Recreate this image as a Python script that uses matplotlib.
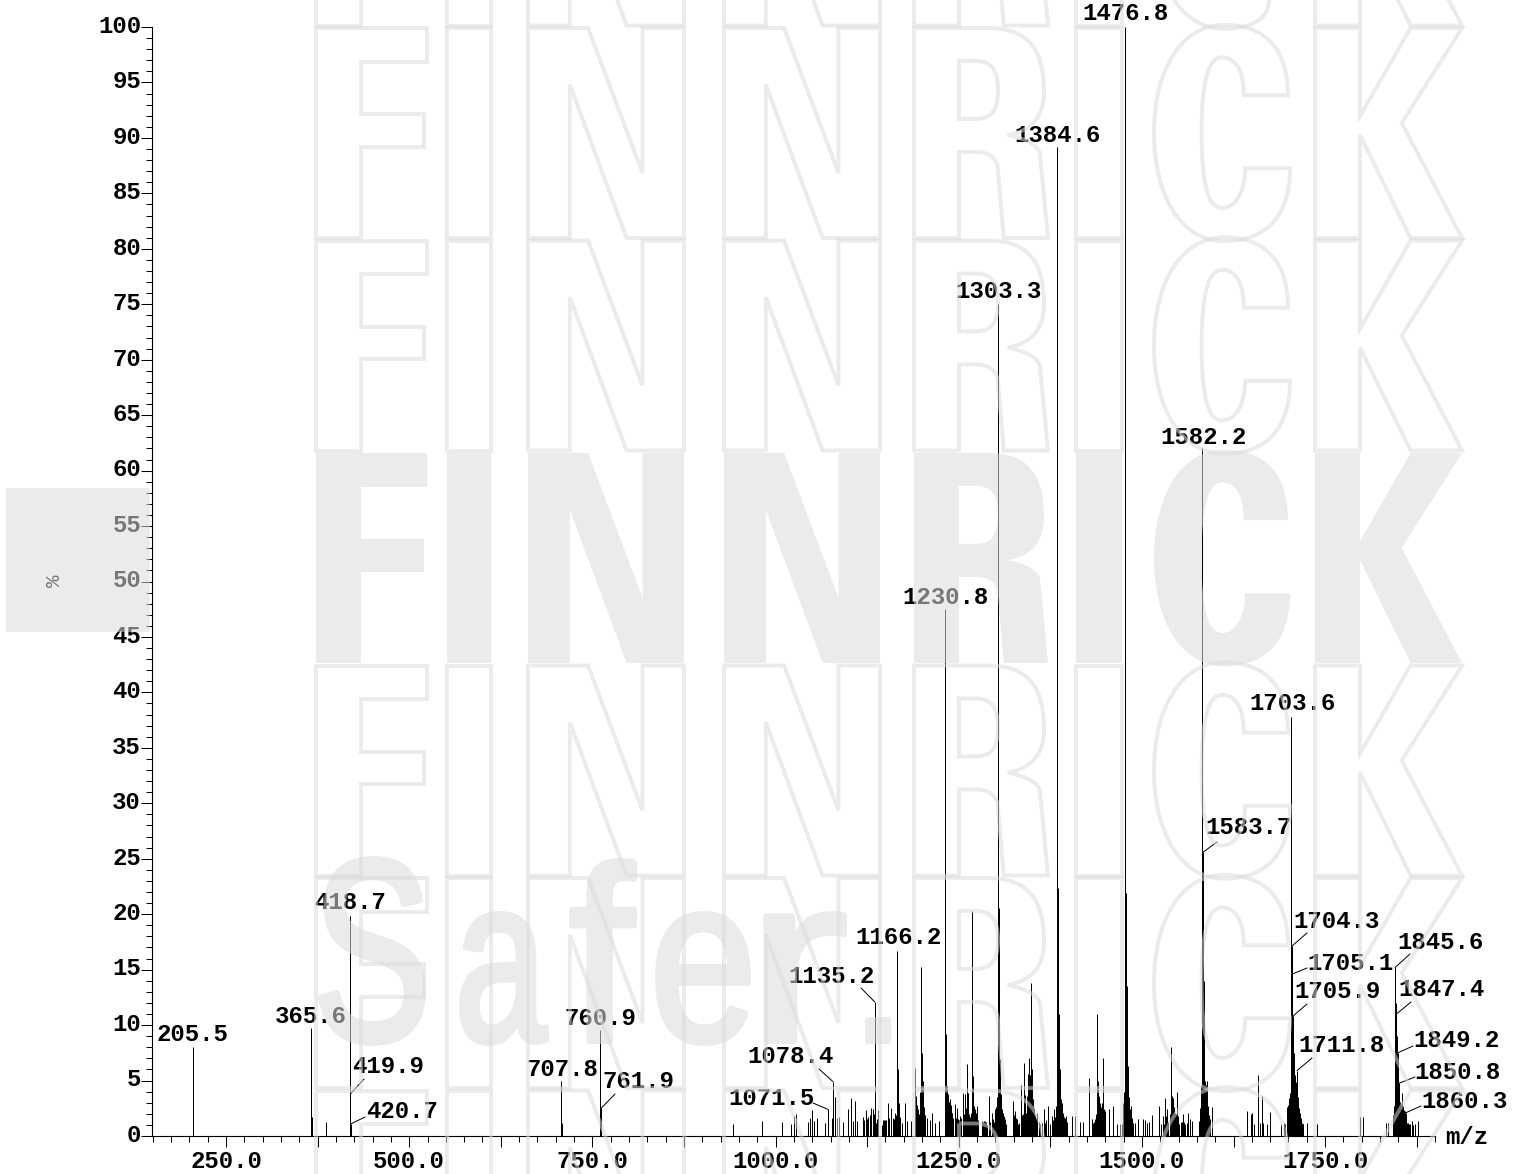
import matplotlib
matplotlib.use("Agg")
import numpy as np
import matplotlib.pyplot as plt
from matplotlib.font_manager import FontProperties
from matplotlib.path import Path
from matplotlib.patches import PathPatch, Rectangle
from matplotlib.textpath import TextPath
from matplotlib.transforms import Affine2D
from matplotlib.ticker import MultipleLocator, NullFormatter

W, H = 1528, 1174

# Labelled peaks
label_mz = [205.5, 365.6, 418.7, 419.9, 420.7, 707.8, 760.9, 761.9, 1071.5, 1078.4, 1135.2, 1166.2,
            1230.8, 1303.3, 1384.6, 1476.8, 1582.2, 1583.7, 1703.6, 1704.3, 1705.1, 1705.9, 1711.8,
            1845.6, 1847.4, 1849.2, 1850.8, 1860.3]
label_int = [8.0, 9.7, 19.8, 3.8, 1.1, 5.0, 9.55, 2.5, 2.4, 4.9, 12.1, 16.7,
             47.5, 75.0, 89.2, 100.0, 62.0, 25.6, 37.8, 17.1, 14.6, 10.8, 5.9,
             15.2, 11.0, 7.5, 4.75, 2.1]

# Unlabelled peaks
other_mz = [366.8, 387.0, 708.5, 942.4, 981.1, 1008.4, 1020.7, 1025.7, 1028.4, 1044.8, 1047.1, 1050.2, 1053.0,
            1056.6, 1068.0, 1077.5, 1081.2, 1083.9, 1086.6, 1092.5, 1099.4, 1103.0, 1106.2, 1108.5, 1110.8,
            1119.9, 1123.0, 1126.2, 1129.9, 1133.5, 1138.0, 1140.3, 1147.1, 1149.4, 1153.0, 1155.3, 1158.0,
            1160.8, 1163.0, 1167.6, 1169.9, 1172.2, 1176.7, 1179.9, 1184.5, 1190.4, 1191.7, 1194.9, 1198.1,
            1199.9, 1201.7, 1206.3, 1210.8, 1214.0, 1217.7, 1223.1, 1232.2, 1233.6, 1235.8, 1238.1, 1240.4,
            1244.9, 1248.1, 1251.8, 1255.4, 1258.6, 1260.9, 1263.2, 1266.3, 1268.6, 1270.0, 1272.3, 1274.5,
            1281.4, 1285.9, 1291.8, 1295.0, 1299.6, 1304.4, 1306.4, 1308.7, 1311.9, 1314.2, 1324.6, 1327.0,
            1331.4, 1334.6, 1337.3, 1339.6, 1341.9, 1344.2, 1346.0, 1348.3, 1349.6, 1351.9, 1356.5, 1363.3,
            1366.5, 1371.5, 1374.6, 1376.9, 1380.1, 1385.4, 1387.0, 1389.6, 1392.8, 1396.0, 1404.2, 1408.8,
            1415.6, 1420.1, 1428.3, 1431.5, 1438.3, 1439.2, 1441.5, 1445.2, 1447.0, 1449.7, 1455.6, 1460.2,
            1461.0, 1465.6, 1470.2, 1472.4, 1475.6, 1478.3, 1479.3, 1480.6, 1482.0, 1483.8, 1485.2, 1488.4,
            1490.6, 1494.3, 1501.1, 1504.3, 1507.5, 1510.2, 1513.4, 1523.8, 1525.7, 1529.3, 1531.6, 1533.9,
            1536.1, 1540.2, 1541.6, 1543.0, 1545.2, 1547.5, 1549.8, 1553.0, 1556.6, 1558.9, 1563.4, 1565.7,
            1568.9, 1578.4, 1588.4, 1590.7, 1593.0, 1595.3, 1644.0, 1648.5, 1650.8, 1653.1, 1659.0, 1661.3,
            1663.5, 1665.8, 1670.4, 1674.9, 1689.5, 1694.0, 1697.6, 1702.2, 1706.8, 1710.4, 1715.9, 1718.1,
            1720.4, 1725.9, 1738.6, 1797.7, 1802.3, 1832.8, 1836.4, 1842.3, 1844.2, 1854.6, 1856.9, 1859.2,
            1863.7, 1868.3, 1872.8, 1877.4]
other_int = [1.7, 1.3, 1.2, 1.1, 1.35, 1.3, 1.05, 1.8, 2.0, 1.3, 1.65, 2.3, 1.35,
             1.6, 1.2, 1.65, 3.5, 1.65, 1.75, 1.25, 2.4, 3.4, 1.35, 3.2, 1.35,
             1.75, 2.3, 1.75, 2.5, 2.4, 1.5, 2.35, 1.45, 1.45, 3.0, 1.65, 2.5,
             1.65, 2.1, 5.9, 1.5, 1.2, 3.0, 1.35, 1.35, 6.1, 3.6, 2.4, 15.2,
             7.5, 2.1, 1.65, 1.45, 2.1, 1.2, 1.35, 9.2, 3.9, 3.5, 3.3, 2.1,
             2.9, 2.55, 1.8, 3.9, 3.75, 6.5, 3.9, 2.1, 20.3, 5.4, 2.4, 2.7,
             1.35, 1.35, 3.6, 2.1, 2.4, 20.6, 6.9, 2.1, 1.8, 1.05, 3.15, 2.25,
             1.05, 4.6, 1.95, 6.6, 2.1, 5.55, 7.0, 13.8, 6.0, 3.3, 2.1, 1.2,
             2.4, 2.7, 1.05, 1.8, 2.4, 22.4, 8.0, 3.3, 2.1, 1.8, 1.8, 1.8,
             1.25, 1.25, 5.25, 1.5, 11.0, 9.2, 3.6, 2.7, 7.0, 2.25, 2.4, 2.55,
             2.7, 1.1, 1.1, 1.1, 4.0, 21.9, 13.5, 6.3, 3.0, 2.4, 2.7, 1.2,
             1.2, 1.5, 1.55, 1.45, 1.2, 1.25, 1.85, 2.75, 1.05, 1.8, 3.4, 2.4,
             1.2, 8.05, 3.6, 3.45, 2.1, 4.0, 1.2, 1.05, 1.95, 1.05, 2.1, 1.5,
             1.35, 1.35, 5.0, 2.7, 1.5, 2.6, 2.25, 1.95, 2.1, 1.05, 5.5, 1.2,
             3.6, 1.2, 1.05, 2.2, 1.05, 1.2, 2.65, 3.9, 9.5, 4.8, 2.1, 1.2,
             1.05, 1.2, 1.05, 1.75, 1.75, 1.2, 1.2, 1.8, 2.7, 3.9, 2.7, 2.25,
             1.2, 1.35, 1.05, 1.35]

# Fine peaks that fill the isotope clusters
fine_mz = [1111.8, 1120.8, 1125.0, 1128.6, 1132.4, 1134.0, 1137.0, 1145.0,
           1148.0, 1151.4, 1154.0, 1157.0, 1161.5, 1164.8, 1166.9,
           1168.3, 1169.0, 1170.5, 1192.4, 1193.5, 1195.6, 1196.5, 1197.3, 1198.8, 1200.6, 1202.4, 1203.3, 1231.5,
           1232.8, 1233.0, 1234.4, 1235.0, 1236.4, 1237.0, 1238.8, 1239.5, 1240.9, 1241.8, 1242.6, 1246.0, 1247.0,
           1249.0, 1250.0, 1252.5, 1253.5, 1256.0, 1257.0, 1259.5, 1261.8, 1262.5, 1264.0, 1265.0, 1269.5, 1271.0,
           1273.0, 1275.5, 1276.5, 1283.5, 1284.5, 1287.0, 1288.0, 1293.0, 1296.5, 1298.0, 1301.0, 1302.0, 1305.0,
           1305.6, 1307.0, 1307.8, 1309.5, 1310.2, 1311.0, 1312.6, 1313.4, 1325.8, 1328.0, 1329.0, 1330.2, 1332.6,
           1335.5, 1336.4, 1338.4, 1340.6, 1342.8, 1343.5, 1345.0, 1347.0, 1350.5, 1352.8, 1353.6, 1355.0, 1357.5,
           1359.0, 1361.0, 1367.4, 1369.0, 1372.5, 1378.0, 1381.5, 1383.0, 1383.8, 1386.0, 1386.5, 1387.8, 1388.4,
           1390.5, 1391.2, 1394.0, 1395.0, 1397.5, 1433.0, 1435.0, 1436.0, 1437.0, 1440.3, 1442.4, 1443.5, 1444.3,
           1446.0, 1448.0, 1473.8, 1474.7, 1481.4, 1482.8, 1484.4, 1486.2, 1487.0, 1530.5, 1532.5, 1535.0, 1538.0,
           1539.0, 1542.3, 1544.0, 1546.3, 1548.6, 1551.0, 1554.0, 1555.0, 1557.6, 1561.0, 1562.0, 1579.5, 1580.3,
           1581.0, 1584.4, 1585.2, 1586.0, 1586.8, 1587.6, 1589.0, 1589.8, 1591.5, 1592.2, 1695.0, 1699.0, 1700.0,
           1701.0, 1702.9, 1707.5, 1708.2, 1709.0, 1709.7, 1711.0, 1712.5, 1713.3, 1714.0, 1714.8, 1716.7, 1717.4,
           1719.2, 1843.0, 1843.7, 1844.8, 1846.4, 1848.0, 1848.6, 1850.0, 1851.5, 1852.2, 1853.0, 1853.8, 1855.4,
           1856.2, 1857.6, 1858.4, 1860.0, 1861.0, 1862.0, 1864.5, 1865.5, 1869.5]
fine_int = [1.2, 1.4, 1.5, 1.9, 1.6, 2.0, 1.2, 1.0,
            1.4, 1.4, 1.6, 1.5, 1.5, 1.9, 6.0,
            3.0, 2.2, 1.7, 2.8, 2.2, 2.0, 2.0, 4.0, 10.0, 5.0, 2.6, 1.9, 7.0,
            6.0, 5.0, 4.5, 3.8, 3.0, 3.1, 2.8, 2.5, 2.1, 1.6, 1.4, 1.6, 1.9,
            1.5, 1.4, 1.6, 1.5, 2.2, 2.0, 2.5, 3.0, 2.4, 2.0, 1.7, 3.4, 2.7,
            2.1, 1.9, 1.4, 1.3, 1.35, 1.3, 1.0, 1.3, 1.5, 1.3, 2.6, 3.5, 12.0,
            9.0, 5.0, 3.8, 2.4, 2.1, 1.9, 1.5, 1.2, 1.9, 1.6, 1.3, 1.5, 1.2,
            2.8, 1.9, 2.1, 3.7, 3.5, 3.6, 4.5, 5.5, 3.7, 2.5, 2.0, 1.6, 1.8,
            1.3, 1.1, 1.2, 1.4, 1.8, 1.4, 1.7, 2.7, 4.6, 14.0, 11.0, 6.0, 4.8,
            3.0, 2.4, 1.7, 1.6, 1.3, 1.2, 1.3, 1.5, 2.0, 5.0, 3.0, 2.2, 2.6,
            3.0, 2.4, 2.2, 3.0, 4.5, 3.5, 2.2, 1.6, 1.2, 1.1, 1.8, 1.3, 1.4,
            2.0, 3.0, 2.6, 2.0, 1.8, 1.1, 1.3, 1.3, 1.3, 1.1, 1.2, 2.5, 3.6,
            4.5, 14.0, 9.0, 5.0, 4.6, 4.0, 3.3, 2.6, 1.9, 1.4, 1.1, 2.0, 2.8,
            3.4, 6.0, 7.5, 6.5, 5.5, 4.9, 4.2, 3.5, 2.9, 2.5, 2.3, 1.6, 1.5,
            1.1, 1.9, 2.3, 3.3, 12.0, 9.0, 8.0, 5.5, 3.3, 3.1, 2.8, 2.9, 2.8,
            2.6, 2.3, 2.2, 1.9, 1.5, 1.2, 1.1, 1.1, 1.0]

x_tick_values = [250, 500, 750, 1000, 1250, 1500, 1750]
y_tick_values = [0, 5, 10, 15, 20, 25, 30, 35, 40, 45, 50, 55, 60, 65, 70, 75, 80, 85, 90, 95, 100]

label_left_px = [157, 275, 314, 352, 366, 527, 565, 602, 728, 747, 788, 855,
                 902, 955, 1014, 1082, 1160, 1205, 1249, 1293, 1307, 1294, 1298,
                 1397, 1398, 1413, 1414, 1421]
label_mid_px = [1034.5, 1016.5, 902.5, 1066.5, 1111.5, 1069.5, 1018.5, 1081.5, 1098.5, 1056.5, 976.5, 937.5,
                597.5, 291.5, 135.5, 13.5, 437.5, 827.5, 703.5, 921.5, 963.5, 991.5, 1045.5,
                942.5, 989.5, 1040.5, 1072.5, 1101.5]

leader_mz = [419.9, 420.7, 761.9, 1071.5, 1078.4, 1135.2, 1583.7, 1704.3, 1705.1, 1705.9, 1711.8,
             1845.6, 1847.4, 1849.2, 1850.8, 1860.3]
leader_x_px = [364, 365, 615, 813, 819, 861, 1217, 1307, 1307, 1307, 1312, 1410, 1411, 1413, 1415, 1421]
leader_y_px = [1079, 1117, 1094, 1103, 1069, 988, 842, 933, 968, 1004, 1058, 954, 1002, 1046, 1077, 1106]

WM_ROW_TOPS = [-184.5, 28, 240.5, 453, 665.5, 878, 1090.5]
WM_ROW_H = 210
WM_BOXES = [("F", 316, 427), ("I", 447, 491), ("N", 528, 684), ("N", 724, 880),
            ("R", 914, 1048), ("I", 1076, 1122), ("C", 1154, 1290), ("K", 1315, 1462)]
SAFER = [("S", 318, 426, 856, 1046), ("a", 459, 549, 911, 1046), ("f", 569, 637, 858, 1044),
         ("e", 655, 751, 911, 1046), ("r", 763, 847, 911, 1044), (".", 865, 891, 1017, 1044)]

M, L, C, Z = Path.MOVETO, Path.LINETO, Path.CURVE4, Path.CLOSEPOLY


def poly(points):
    return Path(points + [points[0]], [M] + [L] * (len(points) - 1) + [Z])


def seq(start, *parts):
    v, c = [start], [M]
    for part in parts:
        if len(part) == 1:
            v += part
            c += [L]
        else:
            v += part
            c += [C, C, C]
    v.append(start)
    c.append(Z)
    return v, c


r_o = seq((0, 0), [(.55, 0)], [(.85, 0), (.97, .1), (.97, .305)], [(.97, .42), (.88, .49), (.70, .51)],
          [(.85, .53), (.93, .56), (.94, .60)], [(1, 1)], [(.67, 1)], [(.627, .68)],
          [(.627, .62), (.56, .59), (.46, .59)], [(.336, .59)], [(.336, 1)], [(0, 1)])
r_i = seq((.336, .157), [(.336, .433)], [(.46, .433)], [(.58, .433), (.627, .39), (.627, .295)],
          [(.627, .2), (.58, .157), (.46, .157)])
c_o = seq((.515, -.015), [(.82, -.015), (.985, .1), (.985, .32)], [(.66, .32)],
          [(.66, .2), (.6, .14), (.50, .14)], [(.40, .14), (.35, .25), (.35, .5)],
          [(.35, .75), (.40, .857), (.50, .857)], [(.6, .857), (.67, .78), (.67, .668)], [(1, .668)],
          [(1, .9), (.82, 1.015), (.515, 1.015)], [(.2, 1.015), (0, .8), (0, .5)], [(0, .2), (.2, -.015), (.515, -.015)])

GLYPHS = {
    "F": poly([(0, 0), (1, 0), (1, .16), (.405, .16), (.405, .41), (.973, .41), (.973, .565), (.405, .565), (.405, 1), (0, 1)]),
    "I": poly([(0, 0), (1, 0), (1, 1), (0, 1)]),
    "N": poly([(0, 0), (.385, 0), (.734, .69), (.734, 0), (1, 0), (1, 1), (.632, 1), (.268, .27), (.268, 1), (0, 1)]),
    "R": Path(r_o[0] + r_i[0], r_o[1] + r_i[1]),
    "C": Path(c_o[0], c_o[1]),
    "K": poly([(0, 0), (.306, 0), (.306, .42), (.65, 0), (1, 0), (.59, .452), (1, 1), (.65, 1), (.306, .51), (.306, 1), (0, 1)]),
}

FS = 17.3
LABEL_FONT = dict(family="Liberation Mono", weight="bold", size=FS)

fig = plt.figure(figsize=(W / 100, H / 100), dpi=100, facecolor="white")
ax = fig.add_axes([152 / W, 1 - 1136 / H, (1435 - 152) / W, (1136 - 27) / H])
ax.set_xlim(149, 1900)
ax.set_ylim(0, 100)
for s in ("top", "right"):
    ax.spines[s].set_visible(False)
for s in ("left", "bottom"):
    ax.spines[s].set_linewidth(0.8)

px = Affine2D().scale(1 / W, -1 / H).translate(0, 1) + fig.transFigure

for xs, ys in ((other_mz, other_int), (fine_mz, fine_int), (label_mz, label_int)):
    ax.vlines(xs, 0, ys, color="black", lw=0.72)

ax.xaxis.set_major_locator(MultipleLocator(125))
ax.xaxis.set_minor_locator(MultipleLocator(25))
ax.yaxis.set_major_locator(MultipleLocator(5))
ax.yaxis.set_minor_locator(MultipleLocator(1))
ax.xaxis.set_major_formatter(NullFormatter())
ax.yaxis.set_major_formatter(NullFormatter())
ax.tick_params(which="major", length=8, width=0.75)
ax.tick_params(which="minor", length=4.3, width=0.75)

for v in x_tick_values:
    ax.annotate(f"{v:.1f}", xy=(v, 0), xycoords=("data", "axes fraction"), xytext=(0, -18.5),
                textcoords="offset points", ha="center", va="center", annotation_clip=False, **LABEL_FONT)
for v in y_tick_values:
    ax.annotate(f"{v}", xy=(0, v), xycoords=("axes fraction", "data"), xytext=(-7.9, 0.5),
                textcoords="offset points", ha="right", va="center", annotation_clip=False, **LABEL_FONT)

for mz, lx, ly in zip(label_mz, label_left_px, label_mid_px):
    ax.text(lx, ly, f"{mz:.1f}", transform=px, ha="left", va="center", clip_on=False, **LABEL_FONT)

lookup = dict(zip(label_mz, label_int))
for mz, sx, sy in zip(leader_mz, leader_x_px, leader_y_px):
    ax.annotate("", xy=(mz, lookup[mz]), xycoords="data", xytext=(sx, sy), textcoords=px,
                arrowprops=dict(arrowstyle="-", lw=0.72, color="black", shrinkA=0, shrinkB=0))

ax.text(1445, 1137.5, "m/z", transform=px, ha="left", va="center", clip_on=False, **LABEL_FONT)
ax.text(54, 581, "%", transform=px, ha="center", va="center", rotation=90, clip_on=False,
        family="Liberation Mono", size=15)


def fit_text(ch, left, right, top, bottom):
    tp = TextPath((0, 0), ch, size=100, prop=FontProperties(family="Liberation Sans"))
    p = Path(tp.vertices, tp.codes)
    e = p.get_extents()
    tr = (Affine2D().translate(-e.x0, -e.y0)
          .scale((right - left) / e.width, -(bottom - top) / e.height)
          .translate(left, bottom))
    return p.transformed(tr)


WM = "#dbdbdb"
WM_A = 0.55
fig.add_artist(Rectangle((6, 488), 144, 144, transform=px, facecolor=WM, edgecolor="none", alpha=WM_A, zorder=10))
for top in WM_ROW_TOPS:
    solid = top == 453
    for ch, l, r in WM_BOXES:
        path = GLYPHS[ch].transformed(Affine2D().scale(r - l, WM_ROW_H).translate(l, top))
        fig.add_artist(PathPatch(path, transform=px, alpha=WM_A, zorder=10,
                                 facecolor=WM if solid else "none",
                                 edgecolor="none" if solid else WM, lw=0 if solid else 2.8))

# "Safer." is a fattened regular face: paint it opaque on a scratch canvas, then lay it over as one tint
scratch = plt.figure(figsize=(W / 100, H / 100), dpi=100, facecolor="white")
scratch_px = Affine2D().scale(1 / W, -1 / H).translate(0, 1) + scratch.transFigure
INSET = 3
for ch, l, r, t, b in SAFER:
    scratch.add_artist(PathPatch(fit_text(ch, l + INSET, r - INSET, t + INSET, b - INSET), transform=scratch_px,
                                 facecolor="black", edgecolor="black", lw=4.3, joinstyle="round"))
scratch.canvas.draw()
mask = 1 - np.asarray(scratch.canvas.buffer_rgba())[:, :, 0] / 255.0
plt.close(scratch)
tint = np.zeros((mask.shape[0], mask.shape[1], 4))
tint[:, :, :3] = 0xdb / 255.0
tint[:, :, 3] = mask * WM_A
fig.figimage(tint, xo=0, yo=0, origin="upper", zorder=10, resize=False)

fig.savefig("out.png", dpi=100, facecolor="white")
